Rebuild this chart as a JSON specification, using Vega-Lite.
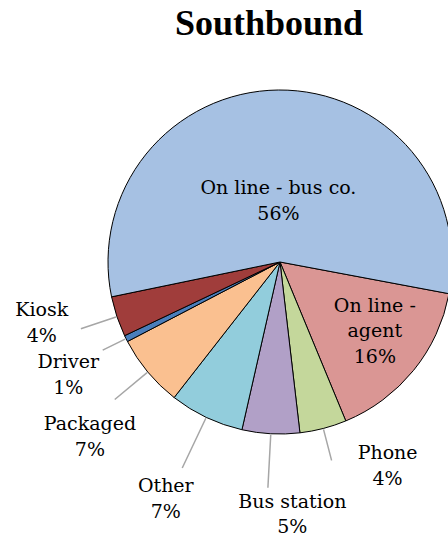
{
  "$schema": "https://vega.github.io/schema/vega-lite/v6.json",
  "width": 336,
  "height": 400,
  "autosize": "none",
  "padding": {"left": 112, "top": 62, "right": 0, "bottom": 76},
  "background": "white",
  "title": {"text": "Southbound", "font": "Liberation Serif", "fontSize": 36, "fontWeight": "bold", "color": "#000000", "dx": -11, "offset": 19},
  "config": {"view": {"stroke": null}},
  "data": {"values": [
    {"idx": 1, "category": "On line - agent", "name": "On line -\nagent", "value": 0.158},
    {"idx": 2, "category": "Phone", "name": "Phone", "value": 0.044},
    {"idx": 3, "category": "Bus station", "name": "Bus station", "value": 0.054},
    {"idx": 4, "category": "Other", "name": "Other", "value": 0.070},
    {"idx": 5, "category": "Packaged", "name": "Packaged", "value": 0.068},
    {"idx": 6, "category": "Driver", "name": "Driver", "value": 0.006},
    {"idx": 7, "category": "Kiosk", "name": "Kiosk", "value": 0.038},
    {"idx": 8, "category": "On line - bus co.", "name": "On line - bus co.", "value": 0.562}
  ]},
  "transform": [
    {"stack": "value", "groupby": [], "sort": [{"field": "idx", "order": "ascending"}], "as": ["v0", "v1"]},
    {"calculate": "(datum.v0 + datum.v1) / 2", "as": "mid"},
    {"calculate": "datum.name + '\\n' + format(datum.value, '.0%')", "as": "label"}
  ],
  "layer": [
    {
      "mark": {"type": "arc", "radius": 172, "stroke": "#000000", "strokeWidth": 1},
      "encoding": {
        "theta": {"field": "v0", "type": "quantitative", "scale": {"domain": [0, 1], "range": [1.7563, 8.0395]}},
        "theta2": {"field": "v1"},
        "color": {"field": "category", "type": "nominal", "legend": null,
          "scale": {"domain": ["On line - bus co.", "On line - agent", "Phone", "Bus station", "Other", "Packaged", "Driver", "Kiosk"],
                    "range": ["#A6C1E3", "#DA9694", "#C4D79B", "#B1A0C7", "#92CDDC", "#FAC090", "#4A7EBB", "#A03D3B"]}}
      }
    },
    {
      "transform": [{"filter": "datum.category === 'On line - bus co.'"}],
      "mark": {"type": "text", "radius": 61, "dx": -1, "dy": -13, "font": "DejaVu Serif", "fontSize": 19, "lineBreak": "\n", "lineHeight": 26, "align": "center", "baseline": "middle", "color": "#000000"},
      "encoding": {"theta": {"field": "mid", "type": "quantitative", "stack": null, "scale": {"domain": [0, 1], "range": [1.7563, 8.0395]}}, "text": {"field": "label"}}
    },
    {
      "transform": [{"filter": "datum.category === 'On line - agent'"}],
      "mark": {"type": "text", "radius": 117, "dx": 4, "dy": -30, "font": "DejaVu Serif", "fontSize": 19, "lineBreak": "\n", "lineHeight": 25.5, "align": "center", "baseline": "middle", "color": "#000000"},
      "encoding": {"theta": {"field": "mid", "type": "quantitative", "stack": null, "scale": {"domain": [0, 1], "range": [1.7563, 8.0395]}}, "text": {"field": "label"}}
    },
    {
      "transform": [{"filter": "datum.category === 'Phone'"}],
      "layer": [
        {"mark": {"type": "arc", "radius": 205, "radius2": 173, "filled": false, "stroke": "#A6A6A6", "strokeWidth": 1.5},
         "encoding": {"theta": {"field": "mid", "type": "quantitative", "scale": {"domain": [0, 1], "range": [1.7563, 8.0395]}}, "theta2": {"field": "mid"}}},
        {"mark": {"type": "text", "radius": 225, "dx": 51, "dy": -27, "font": "DejaVu Serif", "fontSize": 19, "lineBreak": "\n", "lineHeight": 26, "align": "center", "baseline": "middle", "color": "#000000"},
         "encoding": {"theta": {"field": "mid", "type": "quantitative", "stack": null, "scale": {"domain": [0, 1], "range": [1.7563, 8.0395]}}, "text": {"field": "label"}}}
      ]
    },
    {
      "transform": [{"filter": "datum.category === 'Bus station'"}],
      "layer": [
        {"mark": {"type": "arc", "radius": 226, "radius2": 173, "filled": false, "stroke": "#A6A6A6", "strokeWidth": 1.5},
         "encoding": {"theta": {"field": "mid", "type": "quantitative", "scale": {"domain": [0, 1], "range": [1.7563, 8.0395]}}, "theta2": {"field": "mid"}}},
        {"mark": {"type": "text", "radius": 255, "dx": 26, "dy": -15, "font": "DejaVu Serif", "fontSize": 19, "lineBreak": "\n", "lineHeight": 25, "align": "center", "baseline": "middle", "color": "#000000"},
         "encoding": {"theta": {"field": "mid", "type": "quantitative", "stack": null, "scale": {"domain": [0, 1], "range": [1.7563, 8.0395]}}, "text": {"field": "label"}}}
      ]
    },
    {
      "transform": [{"filter": "datum.category === 'Other'"}],
      "layer": [
        {"mark": {"type": "arc", "radius": 228, "radius2": 173, "filled": false, "stroke": "#A6A6A6", "strokeWidth": 1.5},
         "encoding": {"theta": {"field": "mid", "type": "quantitative", "scale": {"domain": [0, 1], "range": [1.7563, 8.0395]}}, "theta2": {"field": "mid"}}},
        {"mark": {"type": "text", "radius": 264, "dx": -1, "dy": -15, "font": "DejaVu Serif", "fontSize": 19, "lineBreak": "\n", "lineHeight": 26, "align": "center", "baseline": "middle", "color": "#000000"},
         "encoding": {"theta": {"field": "mid", "type": "quantitative", "stack": null, "scale": {"domain": [0, 1], "range": [1.7563, 8.0395]}}, "text": {"field": "label"}}}
      ]
    },
    {
      "transform": [{"filter": "datum.category === 'Packaged'"}],
      "layer": [
        {"mark": {"type": "arc", "radius": 215, "radius2": 173, "filled": false, "stroke": "#A6A6A6", "strokeWidth": 1.5},
         "encoding": {"theta": {"field": "mid", "type": "quantitative", "scale": {"domain": [0, 1], "range": [1.7563, 8.0395]}}, "theta2": {"field": "mid"}}},
        {"mark": {"type": "text", "radius": 259, "dx": 9, "dy": -4, "font": "DejaVu Serif", "fontSize": 19, "lineBreak": "\n", "lineHeight": 26, "align": "center", "baseline": "middle", "color": "#000000"},
         "encoding": {"theta": {"field": "mid", "type": "quantitative", "stack": null, "scale": {"domain": [0, 1], "range": [1.7563, 8.0395]}}, "text": {"field": "label"}}}
      ]
    },
    {
      "transform": [{"filter": "datum.category === 'Driver'"}],
      "layer": [
        {"mark": {"type": "arc", "radius": 198, "radius2": 173, "filled": false, "stroke": "#A6A6A6", "strokeWidth": 1.5},
         "encoding": {"theta": {"field": "mid", "type": "quantitative", "scale": {"domain": [0, 1], "range": [1.7563, 8.0395]}}, "theta2": {"field": "mid"}}},
        {"mark": {"type": "text", "radius": 241, "dx": 4, "dy": -7, "font": "DejaVu Serif", "fontSize": 19, "lineBreak": "\n", "lineHeight": 26, "align": "center", "baseline": "middle", "color": "#000000"},
         "encoding": {"theta": {"field": "mid", "type": "quantitative", "stack": null, "scale": {"domain": [0, 1], "range": [1.7563, 8.0395]}}, "text": {"field": "label"}}}
      ]
    },
    {
      "transform": [{"filter": "datum.category === 'Kiosk'"}],
      "layer": [
        {"mark": {"type": "arc", "radius": 210, "radius2": 173, "filled": false, "stroke": "#A6A6A6", "strokeWidth": 1.5},
         "encoding": {"theta": {"field": "mid", "type": "quantitative", "scale": {"domain": [0, 1], "range": [1.7563, 8.0395]}}, "theta2": {"field": "mid"}}},
        {"mark": {"type": "text", "radius": 246, "dx": -5, "dy": -30, "font": "DejaVu Serif", "fontSize": 19, "lineBreak": "\n", "lineHeight": 26, "align": "center", "baseline": "middle", "color": "#000000"},
         "encoding": {"theta": {"field": "mid", "type": "quantitative", "stack": null, "scale": {"domain": [0, 1], "range": [1.7563, 8.0395]}}, "text": {"field": "label"}}}
      ]
    }
  ]
}
